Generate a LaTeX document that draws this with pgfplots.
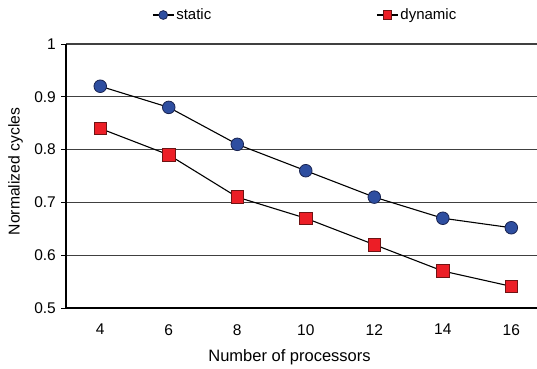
\documentclass[border=0pt]{standalone}
\usepackage{pgfplots}
\pgfplotsset{compat=1.18}
\usepackage{fontspec}
\setmainfont{Liberation Sans}
\definecolor{cblue}{RGB}{46,78,160}
\definecolor{cblueedge}{RGB}{25,35,80}
\definecolor{cred}{RGB}{236,30,38}
\definecolor{crededge}{RGB}{110,20,20}
\begin{document}
\fontsize{15}{18}\selectfont
\begin{tikzpicture}[x=1pt,y=1pt]
\useasboundingbox (0,0) rectangle (537,368);
\begin{axis}[
  at={(66pt,60pt)}, anchor=south west,
  scale only axis, width=471pt, height=264pt,
  xmin=3, xmax=16.75, ymin=0.5, ymax=1,
  axis x line*=bottom, axis y line*=left,
  axis line style={line width=1.1pt, black, -},
  xtick={4,6,...,16},
  major x tick style={draw=none},
  extra x ticks={3,5,...,15},
  extra x tick labels={},
  extra x tick style={major tick length=6pt, tick style={line width=1pt, black}, tick align=outside, grid=none},
  ytick={0.5,0.6,...,1.0},
  yticklabel style={/pgf/number format/fixed, /pgf/number format/precision=1},
  ytick style={line width=1pt, black},
  tick align=outside, major tick length=5pt,
  ymajorgrids, grid style={line width=1.1pt, black!75},
  /pgf/number format/assume math mode=true,
  ticklabel style={font=\fontsize{15.5}{18}\selectfont},
  xticklabel style={yshift=-6pt},
  xlabel={Number of processors},
  ylabel={Normalized cycles},
  xlabel style={font=\fontsize{16.5}{19}\selectfont, at={(axis description cs:0.4745,-0.2008)}, anchor=base},
  ylabel style={font=\fontsize{15.7}{19}\selectfont, at={(axis description cs:-0.1072,0.517)}, anchor=center},
  legend columns=2,
  legend style={draw=none, fill=none, at={(0.1826,1.1098)}, anchor=west, inner sep=0pt,
    font=\fontsize{15}{18}\selectfont, /tikz/every even column/.append style={column sep=163pt}},
  legend image code/.code={\draw[#1, mark=none] (0pt,0pt) -- (21pt,0pt); \path[#1, mark size=4.4pt, line width=0.6pt] plot coordinates {(10.5pt,0pt)};},
]
\addplot[line width=1.1pt, black, mark=*, mark size=6.3pt, mark options={fill=cblue, draw=cblueedge, line width=0.8pt}]
  coordinates {(4,0.92) (6,0.88) (8,0.81) (10,0.76) (12,0.71) (14,0.67) (16,0.652)};
\addlegendentry{static}
\addplot[line width=1.1pt, black, mark=square*, mark size=6.3pt, mark options={fill=cred, draw=crededge, line width=0.8pt}]
  coordinates {(4,0.84) (6,0.79) (8,0.71) (10,0.67) (12,0.62) (14,0.57) (16,0.541)};
\addlegendentry{dynamic}
\end{axis}
\end{tikzpicture}
\end{document}
